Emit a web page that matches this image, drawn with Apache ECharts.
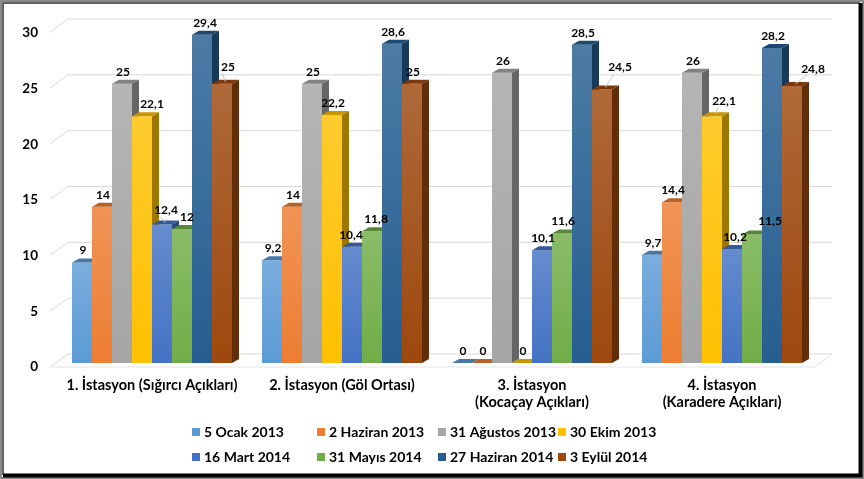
<!DOCTYPE html>
<html><head><meta charset="utf-8">
<script src="https://cdn.jsdelivr.net/npm/echarts@6/dist/echarts.min.js"></script>
<style>html,body{margin:0;padding:0;background:#fff}#c{width:864px;height:479px}</style>
</head><body><div id="c"></div>
<script>
// ---------- DATA ----------
const categories = [
  '1. İstasyon (Sığırcı Açıkları)',
  '2. İstasyon (Göl Ortası)',
  '3. İstasyon\n(Kocaçay Açıkları)',
  '4. İstasyon\n(Karadere Açıkları)'
];
const seriesNames = ['5 Ocak 2013','2 Haziran 2013','31 Ağustos 2013','30 Ekim 2013',
                     '16 Mart 2014','31 Mayıs 2014','27 Haziran 2014','3 Eylül 2014'];
const ocak2013    = [9, 9.2, 0, 9.7];
const haziran2013 = [14, 14, 0, 14.4];
const agustos2013 = [25, 25, 26, 26];
const ekim2013    = [22.1, 22.2, 0, 22.1];
const mart2014    = [12.4, 10.4, 10.1, 10.2];
const mayis2014   = [12, 11.8, 11.6, 11.5];
const haziran2014 = [29.4, 28.6, 28.5, 28.2];
const eylul2014   = [25, 25, 24.5, 24.8];
const yTicks = [0, 5, 10, 15, 20, 25, 30];

const seriesValues = [ocak2013, haziran2013, agustos2013, ekim2013, mart2014, mayis2014, haziran2014, eylul2014];
const colors = ['#5B9BD5','#ED7D31','#A5A5A5','#FFC000','#4472C4','#70AD47','#255E91','#9E480E'];

// ---------- STYLE ----------
const FONT = 'Lato, "Open Sans", sans-serif';
const N = seriesNames.length;
const BAR_FRAC = 160 / 190;
const DX = 7, DY = 4;
// label nudges (style only): 'series,category' -> [dx, dy, leader]
const labelNudge = {
  '7,0': [5, -5, true], '3,0': [9, 0, false], '4,0': [3, -2, true], '5,0': [4, 0, false], '6,0': [2, 0, false],
  '7,2': [17, -10, true], '7,3': [20, -5, true], '3,3': [11, -3, true], '5,3': [17, -1, false],
  '4,3': [2, 0, false], '5,1': [3, 0, false], '4,1': [-2, 0, false]
};
const legendColumnsX = [192, 317, 438, 558];

function shade(hex, f) {
  const n = parseInt(hex.slice(1), 16);
  let r = (n >> 16) & 255, g = (n >> 8) & 255, b = n & 255;
  if (f < 1) { r *= f; g *= f; b *= f; }
  else { const t = f - 1; r += (255 - r) * t; g += (255 - g) * t; b += (255 - b) * t; }
  return 'rgb(' + Math.round(r) + ',' + Math.round(g) + ',' + Math.round(b) + ')';
}
function fmt(v) { return String(v).replace('.', ','); }

function makeBarRenderer(si) {
  const c = colors[si];
  return function (params, api) {
    const ci = api.value(0), v = api.value(1);
    const base = api.coord([ci, 0]);
    const top = api.coord([ci, v]);
    const band = api.size([1, 0])[0];
    const bw = band * BAR_FRAC / N;
    const x0 = base[0] - band * BAR_FRAC / 2 + si * bw;
    const x1 = x0 + bw;
    const yb = base[1], yt = top[1];
    const nd = labelNudge[si + ',' + ci] || [0, 0, false];
    const lx = (x0 + x1) / 2 + 1 + nd[0], ly = yt - 12 + nd[1];
    const children = [
      { type: 'rect', shape: { x: x0, y: yt, width: bw, height: yb - yt },
        style: { fill: new echarts.graphic.LinearGradient(0, 0, 0, 1, [
          { offset: 0, color: shade(c, 1.18) }, { offset: 1, color: c }]) } },
      { type: 'polygon', shape: { points: [[x1, yt], [x1 + DX, yt - DY], [x1 + DX, yb - DY], [x1, yb]] },
        style: { fill: shade(c, 0.62) } },
      { type: 'polygon', shape: { points: [[x0, yt], [x0 + DX, yt - DY], [x1 + DX, yt - DY], [x1, yt]] },
        style: { fill: shade(c, 0.78) } },
      { type: 'text', z2: 100, x: lx, y: ly,
        style: { text: fmt(v), fill: '#000', font: 'bold 12px ' + FONT, align: 'center', verticalAlign: 'middle' } }
    ];
    if (nd[2]) {
      children.push({ type: 'line', z2: 99,
        shape: { x1: lx - 6, y1: ly + 6, x2: (x0 + x1) / 2 + DX / 2, y2: yt - DY / 2 },
        style: { stroke: '#c8c8c8', lineWidth: 1 } });
    }
    return { type: 'group', children: children };
  };
}

function renderGrid(params, api) {
  const xFront = 50, xBack = 68, xEnd = 832;
  const children = [];
  yTicks.forEach(function (t) {
    const y = api.coord([0, t])[1];
    children.push({ type: 'polyline', shape: { points: [[xFront, y + 4], [xBack, y - 9], [xEnd, y - 9]] },
      style: { stroke: '#d9d9d9', lineWidth: 1, fill: null } });
  });
  const y0 = api.coord([0, 0])[1];
  children.push({ type: 'line', shape: { x1: xFront, y1: y0 + 4, x2: 815, y2: y0 + 4 },
    style: { stroke: '#e3e3e3', lineWidth: 1 } });
  children.push({ type: 'line', shape: { x1: 815, y1: y0 + 4, x2: xEnd, y2: y0 - 9 },
    style: { stroke: '#e3e3e3', lineWidth: 1 } });
  return { type: 'group', children: children };
}

const series = [{
  type: 'custom', name: '_grid', xAxisIndex: 0, yAxisIndex: 0, z: 1, silent: true,
  renderItem: renderGrid, data: [[0, 0]], encode: { x: 0, y: 1 }
}];
seriesNames.forEach(function (nm, si) {
  series.push({
    type: 'custom', name: nm, xAxisIndex: 0, yAxisIndex: 0, z: 2,
    itemStyle: { color: colors[si] },
    renderItem: makeBarRenderer(si),
    data: seriesValues[si].map(function (v, i) { return [i, v]; }),
    encode: { x: 0, y: 1 }
  });
});

const legends = legendColumnsX.map(function (lx, k) {
  return {
    left: lx, top: 424, orient: 'vertical', padding: 0, itemWidth: 8, itemHeight: 8, itemGap: 9, icon: 'rect',
    data: [seriesNames[k], seriesNames[k + 4]],
    textStyle: { fontFamily: FONT, fontWeight: 'bold', fontSize: 14, lineHeight: 16, color: '#000', padding: [0, 0, 0, -1] }
  };
});

const option = {
  animation: false,
  backgroundColor: '#fff',
  grid: [
    { left: 57, right: 47, top: 28, bottom: 116 },
    { left: 50, right: 47, top: 33, bottom: 112 }
  ],
  xAxis: [
    { type: 'category', gridIndex: 0, data: categories,
      axisLine: { show: false }, axisTick: { show: false },
      axisLabel: { margin: 14, interval: 0, color: '#000', fontFamily: FONT, fontWeight: 'bold', fontSize: 14.5, lineHeight: 17 } },
    { type: 'category', gridIndex: 1, data: categories, show: false }
  ],
  yAxis: [
    { type: 'value', gridIndex: 0, min: 0, max: 30, interval: 5, show: false, splitLine: { show: false } },
    { type: 'value', gridIndex: 1, min: 0, max: 30, interval: 5,
      axisLine: { show: false }, axisTick: { show: false }, splitLine: { show: false },
      axisLabel: { margin: 12, color: '#000', fontFamily: FONT, fontWeight: 'bold', fontSize: 13.5,
        formatter: function (v) { return yTicks.indexOf(v) >= 0 ? String(v) : ''; } } }
  ],
  legend: legends,
  series: series,
  graphic: [
    { type: 'rect', silent: true, z: 100, shape: { x: 1, y: 1, width: 862, height: 477 },
      style: { fill: null, stroke: '#8a8a8a', lineWidth: 2 } },
    { type: 'polyline', silent: true, z: 101, shape: { points: [[3, 475], [3, 3], [860, 3]] },
      style: { fill: null, stroke: '#303030', lineWidth: 1.5 } },
    { type: 'polyline', silent: true, z: 101, shape: { points: [[3, 475.5], [860.5, 475.5], [860.5, 3]] },
      style: { fill: null, stroke: '#000', lineWidth: 4 } }
  ]
};

const chart = echarts.init(document.getElementById('c'), null, { renderer: 'canvas' });
chart.setOption(option);
</script>
</body></html>
